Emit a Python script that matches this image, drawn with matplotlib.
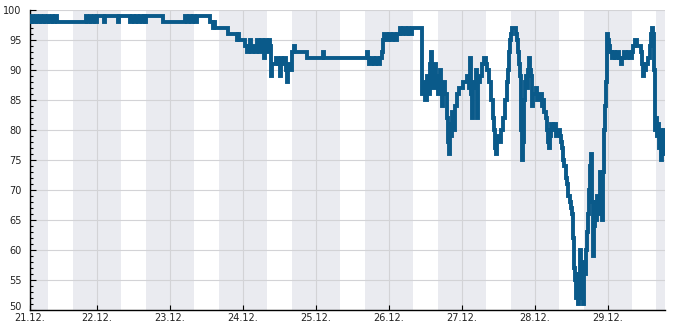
import pandas as pd
import numpy as np
import matplotlib
matplotlib.use('Agg')
import matplotlib.pyplot as plt
import matplotlib.dates as mdates
import matplotlib.transforms as mtransforms
from matplotlib.ticker import MultipleLocator
import datetime as dt

# hours since 21.12. 00:00 and the reading at that time (step data)
hours = [1.97, 2.63, 2.96, 3.95, 4.27, 5.26, 5.59, 6.58, 6.9, 7.89, 8.2, 9.21, 9.6, 10.19, 10.85,
         20.39, 20.71, 21.7, 22.03, 23.02, 23.34, 24.0,
         26.3, 26.63, 30.91, 31.24,
         34.85, 35.51, 36.17, 36.83, 37.48, 38.14, 38.8, 39.46, 39.8, 40.11,
         45.7,
         52.94, 53.59, 54.25, 54.91, 55.57, 56.22, 56.88,
         61.16, 62.14, 62.47, 62.8, 67.08, 70.03, 70.36, 70.69, 72.66, 73.32, 73.98, 74.31, 74.64,
         75.3, 75.95, 76.61, 77.27, 77.93, 78.58, 78.91, 79.24, 79.9, 80.56, 80.88, 81.21, 81.54,
         82.86, 83.52, 84.17, 84.5, 84.83, 85.49, 86.15, 86.47, 86.8, 87.46, 88.12, 88.78, 89.1,
         93.05, 98.31, 98.64, 112.78, 113.11, 113.44, 114.42, 115.08, 115.74, 116.4, 117.05,
         117.71, 118.04, 118.37, 119.35, 120.01, 120.67, 121.33, 121.99, 122.64, 123.63, 124.0,
         124.62, 125.61, 126.2, 126.59, 127.58,
         130.86, 131.52, 131.85, 132.5, 132.83, 133.49, 133.82, 134.15, 134.48, 135.13, 135.46,
         136.12, 136.78, 137.11, 137.44, 137.77, 138.42, 139.08, 139.41, 139.74, 140.07, 140.4,
         140.73, 141.38, 141.71, 142.37, 143.03, 143.69, 144.34, 145.0, 145.66, 146.32, 146.65,
         146.98, 147.3, 147.63, 148.29, 148.62, 148.95, 149.28, 149.94, 150.59, 151.25, 151.91,
         152.24, 152.9, 153.55, 154.21, 154.54, 154.87, 155.2, 155.53, 156.19, 156.85, 157.5,
         158.16, 158.82, 159.15, 159.48, 159.81, 160.14, 160.46, 161.45, 161.78, 162.11, 162.44,
         162.77, 163.08, 163.42, 163.75, 164.08, 164.4, 164.73, 165.06, 165.39, 165.72, 166.05,
         166.38, 166.7, 167.03, 167.36, 168.02, 168.35, 168.68, 169.34, 170.0, 170.32, 170.65,
         170.98, 171.64, 171.97, 172.3, 172.62, 172.95, 173.28, 173.94, 174.27, 174.93, 175.58,
         176.24, 176.57, 176.9, 177.23, 177.56, 178.21, 178.54, 178.87, 179.53, 179.86, 180.19,
         180.51, 180.84, 181.17, 181.5, 181.83, 182.16, 182.49, 182.82, 183.14, 183.47, 183.8,
         184.13, 184.46, 184.79, 185.12, 185.45, 185.78, 186.1, 186.43, 186.76, 187.09, 187.42,
         187.75, 188.08, 188.41, 188.74, 189.07, 189.4, 189.72, 190.05, 190.38, 190.71, 191.04,
         191.37, 191.7, 192.03, 192.36, 192.68, 193.34, 194.0, 194.33, 194.98, 195.64, 196.3,
         196.63, 197.29, 197.94, 198.6, 199.26, 199.92, 200.25, 200.9, 201.56, 202.55, 202.88,
         203.21, 203.54, 203.87, 204.52, 205.18, 205.84, 206.17, 206.5, 206.83, 207.15, 207.48,
         207.81, 208.14, 208.47, 208.8, 209.13, 209.46, 209.78, 210.11, 210.44, 210.77]

values = [98, 99, 98, 99, 98, 99, 98, 99, 98, 99, 98, 99, 98, 99, 98,
          99, 98, 99, 98, 99, 98, 99,
          98, 99, 98, 99,
          98, 99, 98, 99, 98, 99, 98, 99, 98, 99,
          98,
          99, 98, 99, 98, 99, 98, 99,
          98, 97, 98, 97, 96, 95, 96, 95, 94, 93, 94, 95, 93,
          94, 93, 95, 93, 95, 94, 92, 95, 93, 95, 94, 89, 91,
          92, 91, 89, 92, 91, 92, 90, 88, 91, 90, 93, 94, 93,
          92, 93, 92, 93, 92, 91, 92, 91, 92, 91, 92,
          93, 95, 96, 95, 96, 95, 96, 95, 96, 97, 96,
          97, 96, 97, 96, 97,
          86, 88, 85, 89, 86, 91, 93, 90, 87, 91, 89,
          86, 90, 87, 84, 88, 86, 82, 78, 76, 81, 79,
          83, 80, 84, 86, 87, 87, 88, 88, 89, 87, 92,
          86, 82, 88, 87, 90, 82, 88, 89, 91, 92, 91,
          90, 88, 85, 82, 80, 77, 76, 79, 78, 80, 82,
          85, 88, 90, 93, 95, 96, 97, 97, 96, 95, 93,
          91, 89, 80, 75, 78, 85, 88, 89, 87, 90, 92,
          90, 89, 84, 86, 86, 87, 85, 86, 86, 84, 85,
          83, 82, 80, 78, 77, 79, 81, 80, 81, 79, 80,
          79, 78, 77, 75, 74, 72, 71, 69, 68, 67, 66,
          62, 57, 55, 52, 56, 51, 56, 60, 52, 55, 51,
          58, 56, 60, 63, 66, 70, 74, 76, 68, 59, 64,
          68, 65, 69, 66, 68, 73, 70, 65, 73, 80, 84,
          88, 96, 95, 94, 93, 92, 93, 92, 93, 92, 91,
          92, 93, 92, 93, 92, 93, 94, 95, 94, 94, 93,
          91, 89, 90, 91, 92, 94, 96, 97, 96, 90, 80,
          82, 79, 81, 77, 80, 75, 78, 76, 80, 77]

start_day = dt.datetime(2023, 12, 21)
xlim_start = start_day + dt.timedelta(hours=1.97)
xlim_end = start_day + dt.timedelta(hours=210.8)

df = pd.DataFrame({'timestamp': [start_day + dt.timedelta(hours=h) for h in hours], 'value': values})

line_color = '#0a5a8a'
band_color = '#eaebf0'
grid_style = {'linestyle': '-', 'linewidth': 0.8, 'color': '#d3d3d6'}

fig = plt.figure(figsize=(6.85, 3.30), dpi=100)
ax = fig.add_axes([30/685, 20/330, 635/685, 300/330])

# shaded nights 16:00 - 08:00
for d in range(-1, 10):
    day = start_day + dt.timedelta(days=d)
    ax.axvspan(day + dt.timedelta(hours=16), day + dt.timedelta(hours=32), color=band_color, linewidth=0, zorder=0)

ax.plot(df['timestamp'], df['value'], color=line_color, linewidth=2.8, drawstyle='steps-post',
        solid_joinstyle='miter', zorder=3)

ticks = [xlim_start] + [start_day + dt.timedelta(days=d) for d in range(1, 9)]
ax.set_xticks(ticks)
ax.xaxis.set_major_formatter(mdates.DateFormatter('%d.%m.'))
ax.set_xlim(xlim_start, xlim_end)
ax.set_ylim(50, 100)
ax.yaxis.set_major_locator(MultipleLocator(5))
ax.yaxis.set_minor_locator(MultipleLocator(1))
ax.grid(True, which='major', **grid_style)
ax.set_axisbelow(True)

for s in ['top', 'right']:
    ax.spines[s].set_visible(False)
for s in ['left', 'bottom']:
    ax.spines[s].set_linewidth(1.0)
    ax.spines[s].set_color('black')

ax.tick_params(axis='y', which='major', direction='in', length=4, width=0.8, labelsize=7, pad=6, labelcolor='#222222')
ax.tick_params(axis='y', which='minor', direction='in', length=2.5, width=0.8)
ax.tick_params(axis='x', which='major', direction='in', length=3.5, width=0.8, labelsize=7, pad=2, labelcolor='#222222')

# lift the lowest y label a little so it clears the first date label
fig.canvas.draw()
for lbl in ax.get_yticklabels():
    if lbl.get_text() == '50':
        lbl.set_transform(lbl.get_transform() + mtransforms.ScaledTranslation(0, 4/100, fig.dpi_scale_trans))

plt.savefig('out.png', dpi=100)
